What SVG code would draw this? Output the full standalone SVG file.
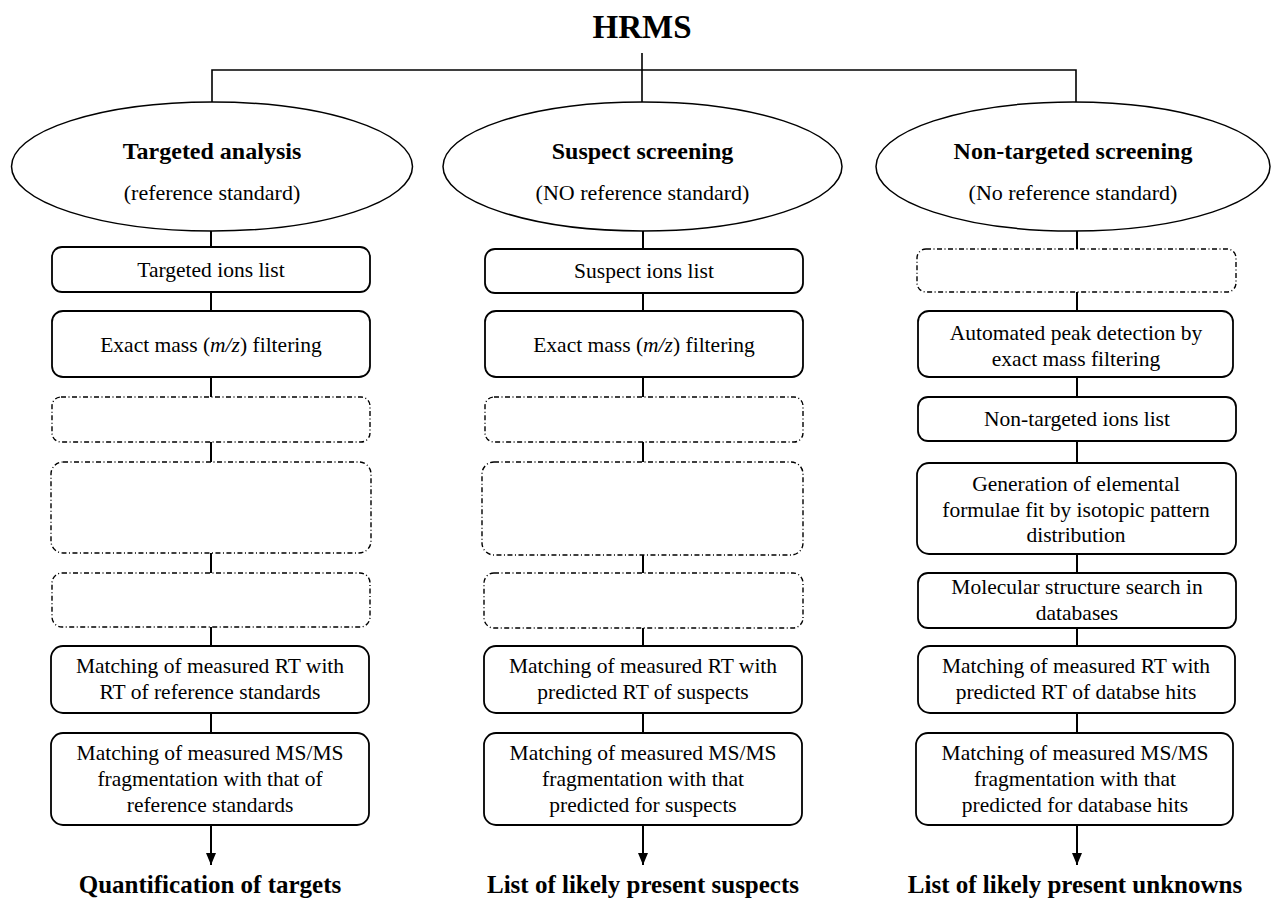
<svg xmlns="http://www.w3.org/2000/svg" width="1271" height="899" viewBox="0 0 1271 899">
<style>
text{font-family:"Liberation Serif","DejaVu Serif",serif;fill:#000;text-anchor:middle}
.t{font-size:21.5px;font-weight:normal}
.h{font-size:24px;font-weight:bold}
.e{font-size:22px;font-weight:normal}
.box{fill:#fff;stroke:#000;stroke-width:1.8}
.dash{fill:none;stroke:#000;stroke-width:1.4;stroke-dasharray:5 2.5 1 2.5}
.ell{fill:#fff;stroke:#000;stroke-width:1.5}
.ln{fill:none;stroke:#000;stroke-width:2}
.ln1{fill:none;stroke:#000;stroke-width:1.6}
</style>
<defs>
<marker id="arr" viewBox="0 0 12 10" refX="12" refY="5" markerWidth="12" markerHeight="10" markerUnits="userSpaceOnUse" orient="auto">
<path d="M0,0 L12,5 L0,10 Z" fill="#000"/>
</marker>
</defs>
<rect width="1271" height="899" fill="#fff"/>
<g id="connectors">
<path class="ln1" d="M642,53 V102 M212,102 V70 H1076 V102"/>
<path class="ln" d="M211,231 V247 M211,292 V311 M211,377 V397 M211,442 V462 M211,553 V573 M211,627 V646 M211,713 V733"/>
<path class="ln" d="M643,231 V249 M643,293 V311 M643,377 V397 M643,442 V462 M643,555 V573 M643,628 V646 M643,713 V733"/>
<path class="ln" d="M1077,231 V249 M1077,292 V311 M1077,377 V397 M1077,441 V463 M1077,554 V573 M1077,628 V646 M1077,713 V733"/>
<line class="ln" x1="211" y1="825" x2="211" y2="865" marker-end="url(#arr)"/>
<line class="ln" x1="643" y1="825" x2="643" y2="865" marker-end="url(#arr)"/>
<line class="ln" x1="1077" y1="825" x2="1077" y2="865" marker-end="url(#arr)"/>
</g>
<g id="hrms"><text x="642" y="38" style="font-size:33px;font-weight:bold">HRMS</text></g>
<g id="targeted">
<ellipse class="ell" cx="212" cy="166.5" rx="200.5" ry="64.5"/>
<text class="h" x="212" y="159">Targeted analysis</text>
<text class="e" x="212" y="200">(reference standard)</text>
</g>
<g id="suspect">
<ellipse class="ell" cx="642.5" cy="166.5" rx="199.5" ry="64.5"/>
<text class="h" x="642.5" y="159">Suspect screening</text>
<text class="e" x="642.5" y="200">(NO reference standard)</text>
</g>
<g id="nontargeted">
<ellipse class="ell" cx="1073" cy="166.5" rx="197" ry="64.5"/>
<text class="h" x="1073" y="159">Non-targeted screening</text>
<text class="e" x="1073" y="200">(No reference standard)</text>
</g>
<g id="t1"><rect class="box" x="52" y="247" width="318" height="45" rx="10"/><text class="t" x="211" y="277">Targeted ions list</text></g>
<g id="t2"><rect class="box" x="52" y="311" width="318" height="66" rx="11"/><text class="t" x="211" y="352">Exact mass (<tspan font-style="italic">m/z</tspan>) filtering</text></g>
<g id="t3"><rect class="dash" x="52" y="397" width="318" height="45" rx="9"/></g>
<g id="t4"><rect class="dash" x="51" y="462" width="320" height="91" rx="12"/></g>
<g id="t5"><rect class="dash" x="52" y="573" width="318" height="54" rx="10"/></g>
<g id="t6"><rect class="box" x="51" y="646" width="318" height="67" rx="12"/><text class="t" x="210" y="673">Matching of measured RT with</text><text class="t" x="210" y="699">RT of reference standards</text></g>
<g id="t7"><rect class="box" x="51" y="733" width="318" height="92" rx="12"/><text class="t" x="210" y="760">Matching of measured MS/MS</text><text class="t" x="210" y="786">fragmentation with that of</text><text class="t" x="210" y="812">reference standards</text></g>
<g id="t8"><text class="h" x="210" y="893" style="font-size:25px">Quantification of targets</text></g>
<g id="s1"><rect class="box" x="485" y="249" width="318" height="44" rx="10"/><text class="t" x="644" y="278">Suspect ions list</text></g>
<g id="s2"><rect class="box" x="485" y="311" width="318" height="66" rx="11"/><text class="t" x="644" y="352">Exact mass (<tspan font-style="italic">m/z</tspan>) filtering</text></g>
<g id="s3"><rect class="dash" x="485" y="397" width="318" height="45" rx="9"/></g>
<g id="s4"><rect class="dash" x="482" y="462" width="321" height="93" rx="12"/></g>
<g id="s5"><rect class="dash" x="484" y="573" width="319" height="55" rx="10"/></g>
<g id="s6"><rect class="box" x="484" y="646" width="318" height="67" rx="12"/><text class="t" x="643" y="673">Matching of measured RT with</text><text class="t" x="643" y="699">predicted RT of suspects</text></g>
<g id="s7"><rect class="box" x="484" y="733" width="318" height="92" rx="12"/><text class="t" x="643" y="760">Matching of measured MS/MS</text><text class="t" x="643" y="786">fragmentation with that</text><text class="t" x="643" y="812">predicted for suspects</text></g>
<g id="s8"><text class="h" x="643" y="893" style="font-size:25px">List of likely present suspects</text></g>
<g id="n1"><rect class="dash" x="917" y="249" width="319" height="43" rx="9"/></g>
<g id="n2"><rect class="box" x="918" y="311" width="315" height="66" rx="11"/><text class="t" x="1076" y="340">Automated peak detection by</text><text class="t" x="1076" y="366">exact mass filtering</text></g>
<g id="n3"><rect class="box" x="918" y="397" width="318" height="44" rx="10"/><text class="t" x="1077" y="426">Non-targeted ions list</text></g>
<g id="n4"><rect class="box" x="917" y="463" width="319" height="91" rx="12"/><text class="t" x="1076" y="491">Generation of elemental</text><text class="t" x="1076" y="517">formulae fit by isotopic pattern</text><text class="t" x="1076" y="542">distribution</text></g>
<g id="n5"><rect class="box" x="918" y="573" width="318" height="55" rx="10"/><text class="t" x="1077" y="594">Molecular structure search in</text><text class="t" x="1077" y="620">databases</text></g>
<g id="n6"><rect class="box" x="918" y="646" width="317" height="67" rx="12"/><text class="t" x="1076" y="673">Matching of measured RT with</text><text class="t" x="1076" y="699">predicted RT of databse hits</text></g>
<g id="n7"><rect class="box" x="916" y="733" width="317" height="92" rx="12"/><text class="t" x="1075" y="760">Matching of measured MS/MS</text><text class="t" x="1075" y="786">fragmentation with that</text><text class="t" x="1075" y="812">predicted for database hits</text></g>
<g id="n8"><text class="h" x="1075" y="893" style="font-size:25px">List of likely present unknowns</text></g>
</svg>
